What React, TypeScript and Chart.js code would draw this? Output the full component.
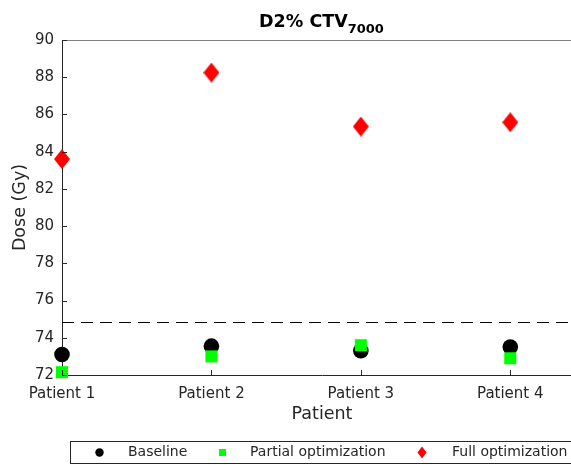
import React, { useEffect, useRef } from "react";
import { Chart, registerables } from "chart.js";

Chart.register(...registerables);

// ---- data ----
const patientLabels = ["Patient 1", "Patient 2", "Patient 3", "Patient 4"];
const patientIdx = [1, 2, 3, 4];
const baseline = [73.1, 73.55, 73.3, 73.5];
const partialOpt = [72.15, 73.0, 73.6, 72.9];
const fullOpt = [83.6, 88.25, 85.35, 85.58];
const threshold = 74.82;
const yMin = 72;
const yMax = 90;
const yStep = 2;
const xMin = 1;
const xMax = 4.48;

const FONT = "'DejaVu Sans', 'Noto Sans', sans-serif";
const TXT = "#262626";

function makeDiamond(hw: number, hh: number, color: string) {
  const s = 4;
  const c = document.createElement("canvas");
  c.width = hw * 2 * s;
  c.height = hh * 2 * s;
  const g = c.getContext("2d")!;
  g.fillStyle = color;
  g.beginPath();
  g.moveTo(hw * s, 0);
  g.lineTo(hw * 2 * s, hh * s);
  g.lineTo(hw * s, hh * 2 * s);
  g.lineTo(0, hh * s);
  g.closePath();
  g.fill();
  const out = document.createElement("canvas");
  out.width = hw * 2;
  out.height = hh * 2;
  const o = out.getContext("2d")!;
  o.imageSmoothingEnabled = true;
  o.imageSmoothingQuality = "high";
  o.drawImage(c, 0, 0, hw * 2, hh * 2);
  return out;
}

const decorPlugin = {
  id: "decor",
  afterDraw(chart: any) {
    const ctx = chart.ctx as CanvasRenderingContext2D;
    const { left, right, top, bottom } = chart.chartArea;
    const xs = chart.scales.x;
    const ys = chart.scales.y;
    ctx.save();

    // top border (gray)
    ctx.strokeStyle = "#808080";
    ctx.lineWidth = 1;
    ctx.beginPath();
    ctx.moveTo(left, Math.round(top) + 0.5);
    ctx.lineTo(right, Math.round(top) + 0.5);
    ctx.stroke();

    // inward ticks
    ctx.strokeStyle = TXT;
    ctx.beginPath();
    ys.ticks.forEach((t: any) => {
      const y = Math.round(ys.getPixelForValue(t.value)) + 0.5;
      ctx.moveTo(left, y);
      ctx.lineTo(left + 5, y);
    });
    patientIdx.forEach((v) => {
      const x = Math.round(xs.getPixelForValue(v)) + 0.5;
      ctx.moveTo(x, bottom);
      ctx.lineTo(x, bottom - 5);
    });
    ctx.stroke();

    // title with subscript
    const cx = 321.5;
    const mainTxt = "D2% CTV";
    const subTxt = "7000";
    ctx.fillStyle = "#000";
    ctx.font = `bold 17.5px ${FONT}`;
    const wMain = ctx.measureText(mainTxt).width;
    ctx.font = `bold 13px ${FONT}`;
    const wSub = ctx.measureText(subTxt).width;
    const x0 = cx - (wMain + wSub) / 2;
    ctx.textAlign = "left";
    ctx.textBaseline = "alphabetic";
    ctx.font = `bold 17.5px ${FONT}`;
    ctx.fillText(mainTxt, x0, 26.5);
    ctx.font = `bold 13px ${FONT}`;
    ctx.fillText(subTxt, x0 + wMain, 33);

    // axis titles
    ctx.fillStyle = TXT;
    ctx.font = `17.5px ${FONT}`;
    ctx.textAlign = "center";
    ctx.textBaseline = "middle";
    ctx.fillText("Patient", 322, 414);
    ctx.save();
    ctx.translate(20, (top + bottom) / 2);
    ctx.rotate(-Math.PI / 2);
    ctx.fillText("Dose (Gy)", 0, 0);
    ctx.restore();

    // legend
    const ly = 452.5;
    ctx.fillStyle = "#fff";
    ctx.fillRect(70.5, 441.5, 506, 22);
    ctx.strokeStyle = TXT;
    ctx.strokeRect(70.5, 441.5, 506, 22);
    ctx.fillStyle = "#000";
    ctx.beginPath();
    ctx.arc(99.5, ly, 4.2, 0, Math.PI * 2);
    ctx.fill();
    ctx.fillStyle = "#00ff00";
    ctx.fillRect(219, ly - 3.5, 7, 7);
    ctx.fillStyle = "#ff0000";
    ctx.beginPath();
    ctx.moveTo(422, ly - 6);
    ctx.lineTo(426.5, ly);
    ctx.lineTo(422, ly + 6);
    ctx.lineTo(417.5, ly);
    ctx.closePath();
    ctx.fill();
    ctx.fillStyle = TXT;
    ctx.font = `14px ${FONT}`;
    ctx.textAlign = "left";
    ctx.textBaseline = "middle";
    ctx.fillText("Baseline", 128, ly);
    ctx.fillText("Partial optimization", 250, ly);
    ctx.fillText("Full optimization", 452, ly);

    ctx.restore();
  },
};

export default function App() {
  const ref = useRef<HTMLCanvasElement>(null);
  useEffect(() => {
    const diamond = makeDiamond(8, 10, "#ff0000");
    const chart = new Chart(ref.current!, {
      type: "scatter",
      data: {
        datasets: [
          {
            label: "Baseline",
            data: patientIdx.map((x, i) => ({ x, y: baseline[i] })),
            pointStyle: "circle",
            pointRadius: 7.8,
            backgroundColor: "#000",
            borderColor: "#000",
            borderWidth: 0,
            clip: false,
            order: 3,
          },
          {
            label: "Partial optimization",
            data: patientIdx.map((x, i) => ({ x, y: partialOpt[i] })),
            pointStyle: "rect",
            pointRadius: 8.5,
            backgroundColor: "#00ff00",
            borderColor: "#00ff00",
            borderWidth: 0,
            clip: false,
            order: 2,
          },
          {
            label: "Full optimization",
            data: patientIdx.map((x, i) => ({ x, y: fullOpt[i] })),
            pointStyle: diamond as any,
            pointRadius: 10,
            backgroundColor: "#ff0000",
            borderColor: "#ff0000",
            borderWidth: 0,
            clip: false,
            order: 1,
          },
          {
            type: "line" as any,
            label: "threshold",
            data: [
              { x: xMin, y: threshold },
              { x: xMax, y: threshold },
            ],
            borderColor: "#000",
            borderWidth: 1,
            borderDash: [12, 7],
            pointRadius: 0,
            fill: false,
            order: 4,
          },
        ] as any,
      },
      options: {
        responsive: false,
        devicePixelRatio: 1,
        animation: false,
        layout: { padding: { top: 40, right: 18, left: 0, bottom: 0 } },
        plugins: {
          legend: { display: false },
          tooltip: { enabled: false },
          title: { display: false },
        },
        scales: {
          x: {
            type: "linear",
            position: "bottom",
            min: xMin,
            max: xMax,
            afterBuildTicks: (s: any) => {
              s.ticks = patientIdx.map((v) => ({ value: v }));
            },
            afterFit: (s: any) => {
              s.height = 90;
            },
            ticks: {
              autoSkip: false,
              maxRotation: 0,
              padding: 10,
              color: TXT,
              font: { family: FONT, size: 15 },
              callback: (v: any) => {
                const i = patientIdx.indexOf(Number(v));
                return i >= 0 ? patientLabels[i] : "";
              },
            },
            grid: { display: false, drawTicks: false },
            border: { display: true, color: TXT, width: 1 },
          },
          y: {
            type: "linear",
            min: yMin,
            max: yMax,
            afterFit: (s: any) => {
              s.width = 62;
            },
            ticks: {
              stepSize: yStep,
              padding: 8,
              color: TXT,
              font: { family: FONT, size: 15 },
            },
            grid: { display: false, drawTicks: false },
            border: { display: true, color: TXT, width: 1 },
          },
        },
      },
      plugins: [decorPlugin],
    });
    return () => chart.destroy();
  }, []);
  return (
    <div
      style={{
        position: "fixed",
        left: 0,
        top: 0,
        width: 571,
        height: 465,
        overflow: "hidden",
        background: "#fff",
      }}
    >
      <canvas
        ref={ref}
        width={600}
        height={465}
        style={{ display: "block", width: 600, height: 465 }}
      />
    </div>
  );
}
